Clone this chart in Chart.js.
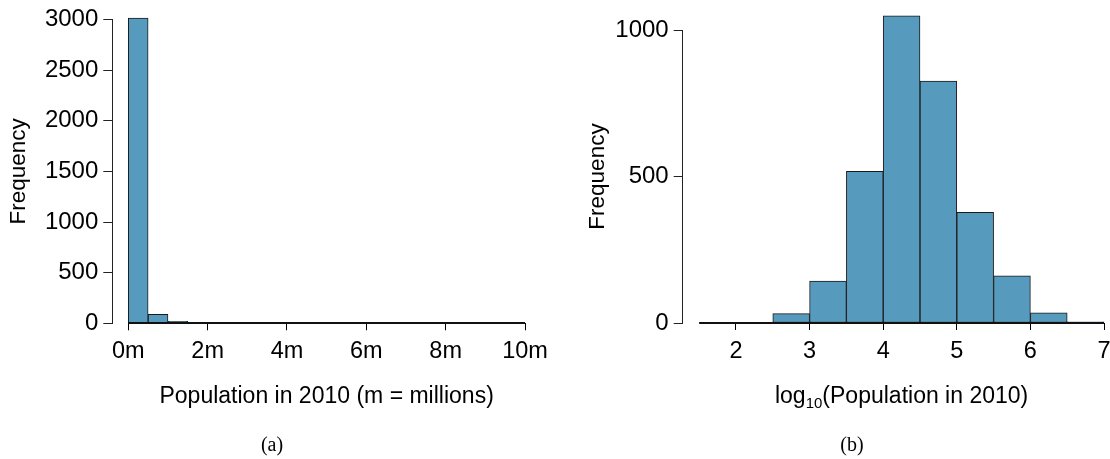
<!DOCTYPE html>
<html>
<head>
<meta charset="utf-8">
<script src="https://cdn.jsdelivr.net/npm/chart.js@4.4.1/dist/chart.umd.min.js"></script>
<style>
  body { margin: 0; background: #fff; }
  #wrap { position: relative; width: 1110px; height: 459px; }
  canvas { position: absolute; top: 0; }
  .cap { position: absolute; top: 433px; font: 20px "Liberation Serif", "DejaVu Serif", serif; color: #000; transform: translateX(-50%); }
</style>
</head>
<body>
<div id="wrap">
  <canvas id="pop" width="555" height="459" style="left:0"></canvas>
  <canvas id="logpop" width="555" height="459" style="left:555px"></canvas>
  <div class="cap" style="left:272px">(a)</div>
  <div class="cap" style="left:852px">(b)</div>
</div>
<script>
// bin starts (width 0.5) and counts
var binWidth = 0.5;
var popBinStart = [0, 0.5, 1, 1.5, 2, 2.5, 3, 3.5, 4, 4.5, 5, 5.5, 6, 6.5, 7, 7.5, 8, 8.5, 9, 9.5];
var popCounts = [3012, 88, 20, 10, 6, 3, 2, 1, 1, 0, 1, 0, 0, 0, 0, 0, 0, 0, 0, 1];
var popTicks = [0, 2, 4, 6, 8, 10];

var logBinStart = [1.5, 2, 2.5, 3, 3.5, 4, 4.5, 5, 5.5, 6, 6.5];
var logCounts = [1, 1, 32, 143, 518, 1048, 826, 378, 161, 35, 4];
var logTicks = [2, 3, 4, 5, 6, 7];

var fontFam = '"Liberation Sans", Arial, Helvetica, sans-serif';
var barFill = '#569BBD';
var ink = '#000';

// R style baseline under the bins + x axis title centred on the bin range
var baseline = {
    id: 'baseline',
    afterDatasetsDraw: function(chart, args, opts) {
        var xs = chart.scales.x, ys = chart.scales.y, ctx = chart.ctx;
        var y0 = Math.round(ys.getPixelForValue(0));
        var x1 = xs.getPixelForValue(opts.from), x2 = xs.getPixelForValue(opts.to);
        ctx.save();
        ctx.strokeStyle = '#111';
        ctx.lineWidth = 2;
        ctx.beginPath();
        ctx.moveTo(x1, y0);
        ctx.lineTo(x2, y0);
        ctx.stroke();

        // title pieces: [text, font size, baseline shift]
        var parts = opts.title;
        var total = 0;
        parts.forEach(function(p) {
            ctx.font = p[1] + 'px ' + fontFam;
            total += ctx.measureText(p[0]).width;
        });
        var x = (x1 + x2) / 2 - total / 2, ty = y0 + 80;
        ctx.fillStyle = ink;
        ctx.textAlign = 'left';
        ctx.textBaseline = 'alphabetic';
        parts.forEach(function(p) {
            ctx.font = p[1] + 'px ' + fontFam;
            ctx.fillText(p[0], x, ty + p[2]);
            x += ctx.measureText(p[0]).width;
        });
        ctx.restore();
    }
};

function makeHist(id, starts, counts, cfg) {
    var pts = starts.map(function(s, i) {
        return { x: s + binWidth / 2, y: counts[i] };
    });
    return new Chart(document.getElementById(id).getContext('2d'), {
        type: 'bar',
        data: {
            datasets: [{
                data: pts,
                backgroundColor: barFill,
                borderColor: '#1a1a1a',
                borderWidth: 1,
                borderSkipped: false,
                categoryPercentage: 1,
                barPercentage: 1,
                clip: false
            }]
        },
        plugins: [baseline],
        options: {
            responsive: false,
            animation: false,
            events: [],
            layout: { padding: cfg.padding },
            plugins: {
                legend: { display: false },
                tooltip: { enabled: false },
                baseline: { from: starts[0], to: starts[starts.length - 1] + binWidth, title: cfg.xTitle }
            },
            scales: {
                x: {
                    type: 'linear',
                    offset: false,
                    min: cfg.xMin,
                    max: cfg.xMax,
                    afterBuildTicks: function(scale) {
                        scale.ticks = cfg.xTicks.map(function(v) { return { value: v }; });
                    },
                    afterFit: function(scale) {
                        scale.height = cfg.xHeight;
                        scale.paddingLeft = 0;
                        scale.paddingRight = 0;
                    },
                    border: { display: false },
                    grid: { offset: false, drawOnChartArea: false, drawTicks: true, tickLength: 7, color: ink, lineWidth: 1 },
                    ticks: {
                        color: ink,
                        font: { family: fontFam, size: 23.5 },
                        padding: 7,
                        maxRotation: 0,
                        autoSkip: false,
                        callback: cfg.xLabel
                    },
                    title: { display: false }
                },
                y: {
                    min: 0,
                    max: cfg.yMax,
                    afterFit: function(scale) { scale.width = cfg.yWidth; },
                    border: { display: true, color: '#222', width: 1 },
                    grid: { drawOnChartArea: false, drawTicks: true, tickLength: 9, color: '#222', lineWidth: 1 },
                    ticks: {
                        stepSize: 500,
                        color: ink,
                        font: { family: fontFam, size: 24 },
                        padding: 5,
                        callback: function(v) { return String(v); }
                    },
                    title: {
                        display: true,
                        text: 'Frequency',
                        color: ink,
                        font: { family: fontFam, size: 22.5 },
                        padding: { top: cfg.yTitlePad, bottom: 0 }
                    }
                }
            }
        }
    });
}

makeHist('pop', popBinStart, popCounts, {
    padding: { top: 16.7, right: 30, left: 0, bottom: 0 },
    xMin: -0.403, xMax: 10, xTicks: popTicks,
    xLabel: function(v) { return v + 'm'; },
    xTitle: [['Population in 2010 (m = millions)', 23, 0]],
    xHeight: 135.7,
    yMax: 3000, yWidth: 112.3, yTitlePad: 5.5
});

makeHist('logpop', logBinStart, logCounts, {
    padding: { top: 30, right: 6, left: 0, bottom: 0 },
    xMin: 1.276, xMax: 7, xTicks: logTicks,
    xLabel: function(v) { return String(v); },
    xTitle: [['log', 23, 0], ['10', 15, 5], ['(Population in 2010)', 23, 0]],
    xHeight: 136,
    yMax: 1000, yWidth: 127.7, yTitlePad: 29.5
});
</script>
</body>
</html>
